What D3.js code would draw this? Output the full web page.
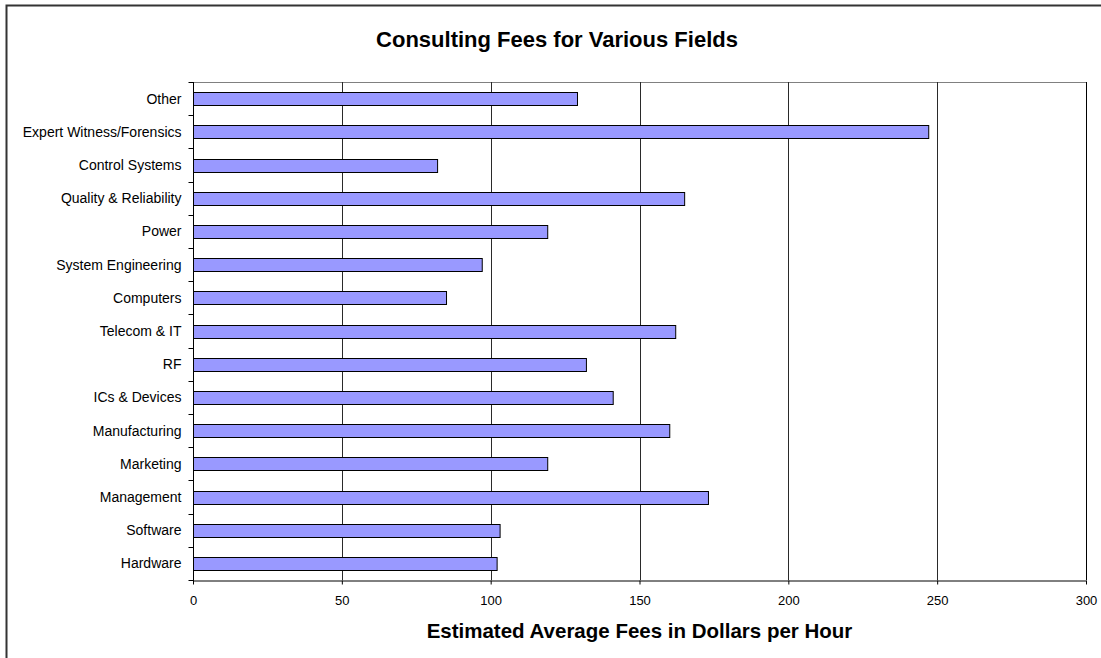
<!DOCTYPE html>
<html>
<head>
<meta charset="utf-8">
<script src="https://cdn.jsdelivr.net/npm/d3@7/dist/d3.min.js"></script>
<style>
  html, body { margin: 0; padding: 0; background: #fff; }
  svg { display: block; font-family: "Liberation Sans", Arial, sans-serif; }
</style>
</head>
<body>
<svg id="chart" width="1101" height="658"></svg>
<script>
// Fields, listed top to bottom as drawn
const categories = [
  "Other", "Expert Witness/Forensics", "Control Systems", "Quality & Reliability",
  "Power", "System Engineering", "Computers", "Telecom & IT", "RF",
  "ICs & Devices", "Manufacturing", "Marketing", "Management", "Software", "Hardware"
];
// Estimated average fee, dollars per hour
const fees = [129, 247, 82, 165, 119, 97, 85, 162, 132, 141, 160, 119, 173, 103, 102];
const xTicks = [0, 50, 100, 150, 200, 250, 300];

const chartTitle = "Consulting Fees for Various Fields";
const xTitle = "Estimated Average Fees in Dollars per Hour";

const svg = d3.select("#chart");
const W = 1101, H = 658;
const m = { left: 193, right: 1086, top: 82, bottom: 580 };

// Outer chart frame
svg.append("rect")
  .attr("x", 6.5).attr("y", 5.5)
  .attr("width", W + 20).attr("height", H + 20)
  .attr("fill", "#fff").attr("stroke", "#333").attr("stroke-width", 2);

const x = d3.scaleLinear().domain([0, 300]).range([m.left, m.right]);
const y = d3.scaleBand().domain(categories).range([m.top, m.bottom]).paddingInner(0.61).paddingOuter(0.305);
const yb = d3.scaleBand().domain(categories).range([m.top, m.bottom]);

// Plot area top border
svg.append("line")
  .attr("x1", m.left).attr("x2", m.right)
  .attr("y1", m.top + 0.5).attr("y2", m.top + 0.5)
  .attr("stroke", "#808080").attr("stroke-width", 1);

// Vertical gridlines
svg.append("g").selectAll("line")
  .data(xTicks.slice(1))
  .join("line")
  .attr("x1", d => Math.round(x(d)) + 0.5).attr("x2", d => Math.round(x(d)) + 0.5)
  .attr("y1", m.top).attr("y2", m.bottom)
  .attr("stroke", d => d === 300 ? "#000" : "#2a2a2a").attr("stroke-width", 1);

// Bars
svg.append("g").selectAll("rect")
  .data(categories.map((c, i) => ({ c, v: fees[i] })))
  .join("rect")
  .attr("x", x(0) + 0.5)
  .attr("y", d => Math.round(y(d.c)) + 0.5)
  .attr("width", d => x(d.v) - x(0))
  .attr("height", Math.round(y.bandwidth()))
  .attr("fill", "#9999FF")
  .attr("stroke", "#000").attr("stroke-width", 1);

// X axis
const xAxis = svg.append("g")
  .attr("transform", `translate(0,${m.bottom + 0.5})`)
  .call(d3.axisBottom(x).tickValues(xTicks).tickSize(4).tickSizeOuter(0).tickPadding(11));
xAxis.attr("font-size", 13).attr("font-family", "'Liberation Sans', Arial, sans-serif");
xAxis.select(".domain").attr("stroke", "#000");
xAxis.selectAll(".tick line").attr("stroke", "#000");
xAxis.selectAll("text").attr("fill", "#000");

// Y axis: ticks sit on the boundaries between categories
const yAxisG = svg.append("g").attr("transform", `translate(${m.left + 0.5},0)`);
yAxisG.append("line")
  .attr("x1", 0).attr("x2", 0).attr("y1", m.top).attr("y2", m.bottom + 1)
  .attr("stroke", "#000");
const bounds = categories.map(c => yb(c)).concat([m.bottom]);
yAxisG.selectAll("line.tk")
  .data(bounds)
  .join("line").attr("class", "tk")
  .attr("x1", -5).attr("x2", 0)
  .attr("y1", d => Math.round(d) + 0.5).attr("y2", d => Math.round(d) + 0.5)
  .attr("stroke", "#000");
yAxisG.selectAll("text")
  .data(categories)
  .join("text")
  .attr("x", -12)
  .attr("y", c => yb(c) + yb.bandwidth() / 2)
  .attr("dy", "0.35em")
  .attr("text-anchor", "end")
  .attr("font-size", 14)
  .attr("fill", "#000")
  .text(c => c);

// Titles
svg.append("text")
  .attr("x", 557).attr("y", 47)
  .attr("text-anchor", "middle")
  .attr("font-size", 22).attr("font-weight", "bold")
  .text(chartTitle);

svg.append("text")
  .attr("x", (m.left + m.right) / 2).attr("y", 638)
  .attr("text-anchor", "middle")
  .attr("font-size", 20.5).attr("font-weight", "bold")
  .text(xTitle);
</script>
</body>
</html>
